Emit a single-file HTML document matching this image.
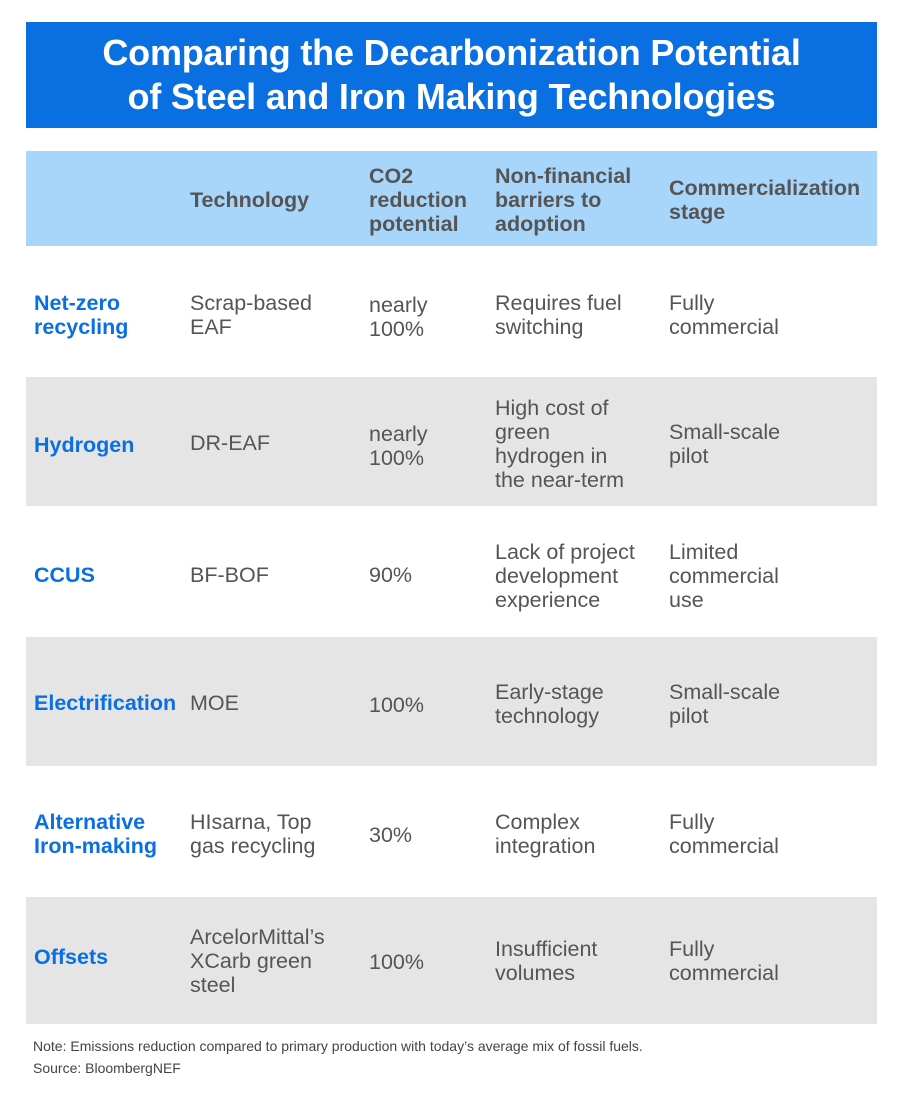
<!DOCTYPE html>
<html><head><meta charset="utf-8"><style>
body{margin:0;width:900px;height:1114px;background:#fff;font-family:"Liberation Sans",sans-serif;position:relative;overflow:hidden}
.title{position:absolute;left:26px;top:22px;width:851px;height:106px;background:#0a6fe0;color:#fff;font-weight:bold;font-size:36px;text-align:center;line-height:44px;padding-top:9px;box-sizing:border-box;letter-spacing:-0.2px}
.hdr{position:absolute;left:26px;top:151px;width:851px;height:95px;background:#a8d6fb}
.row{position:absolute;left:26px;width:851px;height:129px}
.g{background:#e5e5e5}
.c{position:absolute;font-size:21.5px;line-height:24px;color:#555;margin-top:3px}
.h{font-weight:bold;color:#555}
.l{font-weight:bold;color:#0a6fe0;left:8px}
.note{position:absolute;left:33px;font-size:14px;color:#444}
</style></head><body>
<div class="title">Comparing the Decarbonization Potential<br>of Steel and Iron Making Technologies</div>
<div class="hdr">
<div class="c h" style="left:164px;top:34px">Technology</div>
<div class="c h" style="left:343px;top:10px">CO2<br>reduction<br>potential</div>
<div class="c h" style="left:469px;top:10px">Non-financial<br>barriers to<br>adoption</div>
<div class="c h" style="left:643px;top:22px">Commercialization<br>stage</div>
</div>
<div class="row" style="top:247px">
<div class="c l" style="top:41px">Net-zero<br>recycling</div>
<div class="c" style="left:164px;top:41px">Scrap-based<br>EAF</div>
<div class="c" style="left:343px;top:43px">nearly<br>100%</div>
<div class="c" style="left:469px;top:41px">Requires fuel<br>switching</div>
<div class="c" style="left:643px;top:41px">Fully<br>commercial</div>
</div>
<div class="row g" style="top:377px">
<div class="c l" style="top:53px">Hydrogen</div>
<div class="c" style="left:164px;top:51px">DR-EAF</div>
<div class="c" style="left:343px;top:42px">nearly<br>100%</div>
<div class="c" style="left:469px;top:16px">High cost of<br>green<br>hydrogen in<br>the near-term</div>
<div class="c" style="left:643px;top:40px">Small-scale<br>pilot</div>
</div>
<div class="row" style="top:507px">
<div class="c l" style="top:53px">CCUS</div>
<div class="c" style="left:164px;top:53px">BF-BOF</div>
<div class="c" style="left:343px;top:53px">90%</div>
<div class="c" style="left:469px;top:30px">Lack of project<br>development<br>experience</div>
<div class="c" style="left:643px;top:30px">Limited<br>commercial<br>use</div>
</div>
<div class="row g" style="top:637px">
<div class="c l" style="top:51px">Electrification</div>
<div class="c" style="left:164px;top:51px">MOE</div>
<div class="c" style="left:343px;top:53px">100%</div>
<div class="c" style="left:469px;top:40px">Early-stage<br>technology</div>
<div class="c" style="left:643px;top:40px">Small-scale<br>pilot</div>
</div>
<div class="row" style="top:767px">
<div class="c l" style="top:40px">Alternative<br>Iron-making</div>
<div class="c" style="left:164px;top:40px">HIsarna, Top<br>gas recycling</div>
<div class="c" style="left:343px;top:53px">30%</div>
<div class="c" style="left:469px;top:40px">Complex<br>integration</div>
<div class="c" style="left:643px;top:40px">Fully<br>commercial</div>
</div>
<div class="row g" style="top:897px;height:127px">
<div class="c l" style="top:45px">Offsets</div>
<div class="c" style="left:164px;top:25px">ArcelorMittal’s<br>XCarb green<br>steel</div>
<div class="c" style="left:343px;top:50px">100%</div>
<div class="c" style="left:469px;top:37px">Insufficient<br>volumes</div>
<div class="c" style="left:643px;top:37px">Fully<br>commercial</div>
</div>
<div class="note" style="top:1038px">Note: Emissions reduction compared to primary production with today’s average mix of fossil fuels.</div>
<div class="note" style="top:1060px">Source: BloombergNEF</div>
</body></html>
